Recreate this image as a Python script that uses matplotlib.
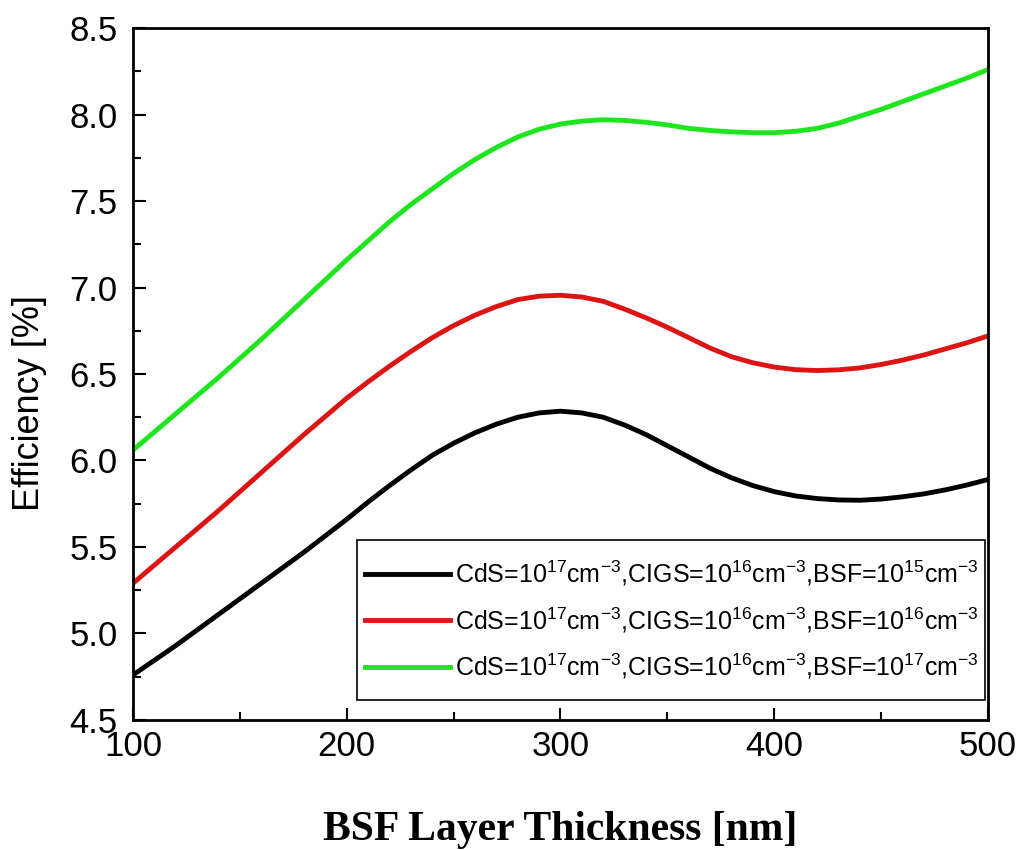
import numpy as np
import matplotlib
matplotlib.use("Agg")
import matplotlib.pyplot as plt
from matplotlib.ticker import MultipleLocator, FormatStrFormatter
from matplotlib.patches import Rectangle

plt.rcParams["font.family"] = ["Liberation Sans", "DejaVu Sans"]
plt.rcParams["mathtext.fontset"] = "custom"
plt.rcParams["mathtext.rm"] = "Liberation Sans"
plt.rcParams["mathtext.it"] = "Liberation Sans:italic"

# BSF layer thickness (nm) and cell efficiency (%)
thickness = list(range(100, 501, 10))

eff_bsf15 = [4.76, 4.845, 4.93, 5.02, 5.11, 5.20, 5.29, 5.38, 5.47, 5.565, 5.66,
             5.76, 5.855, 5.945, 6.03, 6.10, 6.16, 6.21, 6.25, 6.275, 6.285,
             6.275, 6.25, 6.205, 6.15, 6.085, 6.02, 5.955, 5.90, 5.855, 5.82,
             5.795, 5.78, 5.772, 5.77, 5.777, 5.79, 5.807, 5.83, 5.858, 5.89]
eff_bsf16 = [5.29, 5.395, 5.50, 5.605, 5.71, 5.82, 5.93, 6.04, 6.15, 6.255, 6.36,
             6.455, 6.545, 6.63, 6.71, 6.78, 6.84, 6.89, 6.93, 6.95, 6.955,
             6.945, 6.92, 6.875, 6.825, 6.77, 6.71, 6.65, 6.60, 6.565, 6.54,
             6.525, 6.52, 6.524, 6.535, 6.555, 6.58, 6.61, 6.645, 6.68, 6.72]
eff_bsf17 = [6.06, 6.165, 6.27, 6.375, 6.48, 6.59, 6.70, 6.815, 6.93, 7.045, 7.16,
             7.27, 7.38, 7.48, 7.57, 7.66, 7.74, 7.81, 7.87, 7.915, 7.945,
             7.962, 7.97, 7.966, 7.955, 7.94, 7.92, 7.908, 7.90, 7.895, 7.895,
             7.903, 7.92, 7.95, 7.99, 8.03, 8.075, 8.12, 8.165, 8.21, 8.26]

labels = [
    r"CdS=10$^{17}$cm$^{-3}$,CIGS=10$^{16}$cm$^{-3}$,BSF=10$^{15}$cm$^{-3}$",
    r"CdS=10$^{17}$cm$^{-3}$,CIGS=10$^{16}$cm$^{-3}$,BSF=10$^{16}$cm$^{-3}$",
    r"CdS=10$^{17}$cm$^{-3}$,CIGS=10$^{16}$cm$^{-3}$,BSF=10$^{17}$cm$^{-3}$",
]
colors = ["#000000", "#DC1414", "#1EE61E"]

fig = plt.figure(figsize=(10.2, 8.5), dpi=100)
ax = fig.add_axes([0.1304, 0.153, 0.8382, 0.814])

for y, lab, c in zip([eff_bsf15, eff_bsf16, eff_bsf17], labels, colors):
    ax.plot(thickness, y, color=c, lw=3.5, label=lab, solid_joinstyle="round")

ax.set_xlim(100, 500)
ax.set_ylim(4.5, 8.5)
ax.xaxis.set_major_locator(MultipleLocator(100))
ax.xaxis.set_minor_locator(MultipleLocator(50))
ax.yaxis.set_major_locator(MultipleLocator(0.5))
ax.yaxis.set_minor_locator(MultipleLocator(0.25))
ax.yaxis.set_major_formatter(FormatStrFormatter("%.1f"))

for s in ax.spines.values():
    s.set_linewidth(2.0)

ax.tick_params(which="both", direction="in", top=False, right=False, width=1.5)
ax.tick_params(which="major", length=9, labelsize=25)
ax.tick_params(axis="y", which="major", pad=11)
ax.tick_params(axis="x", which="major", pad=7)
ax.tick_params(which="minor", length=5.5)

ax.set_xlabel("BSF Layer Thickness [nm]", family=["Liberation Serif", "DejaVu Serif"],
              fontweight="bold", fontsize=30)
ax.xaxis.set_label_coords(0.5, -0.132)
ax.set_ylabel("Efficiency [%]", fontsize=26)
ax.yaxis.set_label_coords(-0.101, 0.458)

# legend box drawn separately so the text can run up to its right edge
box = Rectangle((0.262, 0.029), 0.735, 0.231, transform=ax.transAxes,
                facecolor="white", edgecolor="black", lw=1.2, zorder=3)
ax.add_patch(box)
leg = ax.legend(loc="upper left", bbox_to_anchor=(0.2713, 0.233), fontsize=18,
                frameon=False, handlelength=3.4, handletextpad=0.2,
                labelspacing=0.68, borderpad=0, borderaxespad=0)
leg.set_zorder(4)

fig.savefig("out.png", dpi=100)
